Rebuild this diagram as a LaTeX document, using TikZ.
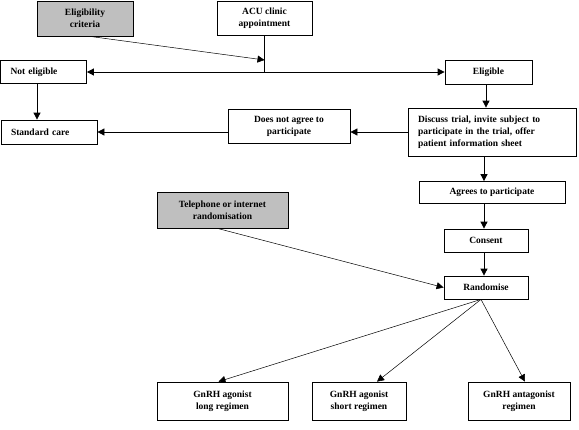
\documentclass[tikz,border=0pt]{standalone}
\usepackage{fontspec}
\setmainfont{Liberation Serif}
\usepackage{tikz}
\usetikzlibrary{positioning,calc,arrows.meta}

\tikzset{
    box/.style={draw, line width=0.8pt, inner sep=0pt, align=center, font=\fontsize{9.5}{12}\selectfont\bfseries},
    greybox/.style={box, fill=black!25},
    leftbox/.style={box, align=left, inner xsep=10pt},
    arr/.style={line width=0.8pt, -{Triangle[length=7pt,width=7pt]}},
    thinarr/.style={line width=0.5pt, -{Triangle[length=7pt,width=7pt]}}
}

\begin{document}
\begin{tikzpicture}[x=1pt,y=-1pt]
    \useasboundingbox (0,0) rectangle (579,429);

    \node[greybox, minimum width=96, minimum height=35] (crit) at (85,18.5) {Eligibility\\criteria};
    \node[box, minimum width=95, minimum height=34] (acu) at (264.5,18) {ACU clinic\\appointment};
    \node[leftbox, minimum width=86, minimum height=23, text width=66] (noteli) at (43.5,72) {Not eligible};
    \node[leftbox, minimum width=96, minimum height=24, text width=76] (std) at (49,132) {Standard care};
    \node[box, minimum width=87, minimum height=24] (eli) at (488.5,72) {Eligible};
    \node[leftbox, minimum width=168, minimum height=48, text width=148] (disc) at (492,132) {Discuss trial, invite subject to\\participate in the trial, offer\\patient information sheet};
    \node[box, minimum width=122, minimum height=34] (nagree) at (289,126) {Does not agree to\\participate};
    \node[box, minimum width=146, minimum height=22] (agree) at (492,192.5) {Agrees to participate};
    \node[box, minimum width=84, minimum height=23] (cons) at (486,240.5) {Consent};
    \node[box, minimum width=84, minimum height=23] (rand) at (486,287.5) {Randomise};
    \node[greybox, minimum width=131, minimum height=36] (tel) at (222.5,210) {Telephone or internet\\randomisation};
    \node[box, minimum width=131, minimum height=38] (long) at (222.5,401) {GnRH agonist\\long regimen};
    \node[box, minimum width=94, minimum height=38] (short) at (359,401) {GnRH agonist\\short regimen};
    \node[box, minimum width=102, minimum height=38] (antag) at (519,401) {GnRH antagonist\\regimen};

    \coordinate (hit) at (264.5,60);
    \coordinate (split) at (264.5,72);

    \draw[line width=0.8pt] (acu.south) -- (split);
    \draw[thinarr] ([xshift=5pt]crit.south) -- (hit);
    \draw[arr] (split) -- (noteli.east);
    \draw[arr] (split) -- (eli.west);
    \draw[arr] (noteli.south -| 37,0) -- (std.north -| 37,0);
    \draw[arr] (eli.south -| 486,0) -- (disc.north -| 486,0);
    \draw[arr] (disc.west) -- (disc.west -| nagree.east);
    \draw[arr] (nagree.west |- std.east) -- (std.east);
    \draw[arr] (disc.south -| 484,0) -- (agree.north -| 484,0);
    \draw[arr] (agree.south -| 484,0) -- (cons.north -| 484,0);
    \draw[arr] (cons.south -| 484,0) -- (rand.north -| 484,0);
    \draw[thinarr] ([xshift=-5pt]tel.south) -- (rand.west);
    \draw[thinarr] ([xshift=-5pt]rand.south) -- ([xshift=-4pt]long.north);
    \draw[thinarr] ([xshift=-5pt]rand.south) -- ([xshift=18pt]short.north);
    \draw[thinarr] ([xshift=-5pt]rand.south) -- ([xshift=6pt]antag.north);
\end{tikzpicture}
\end{document}
